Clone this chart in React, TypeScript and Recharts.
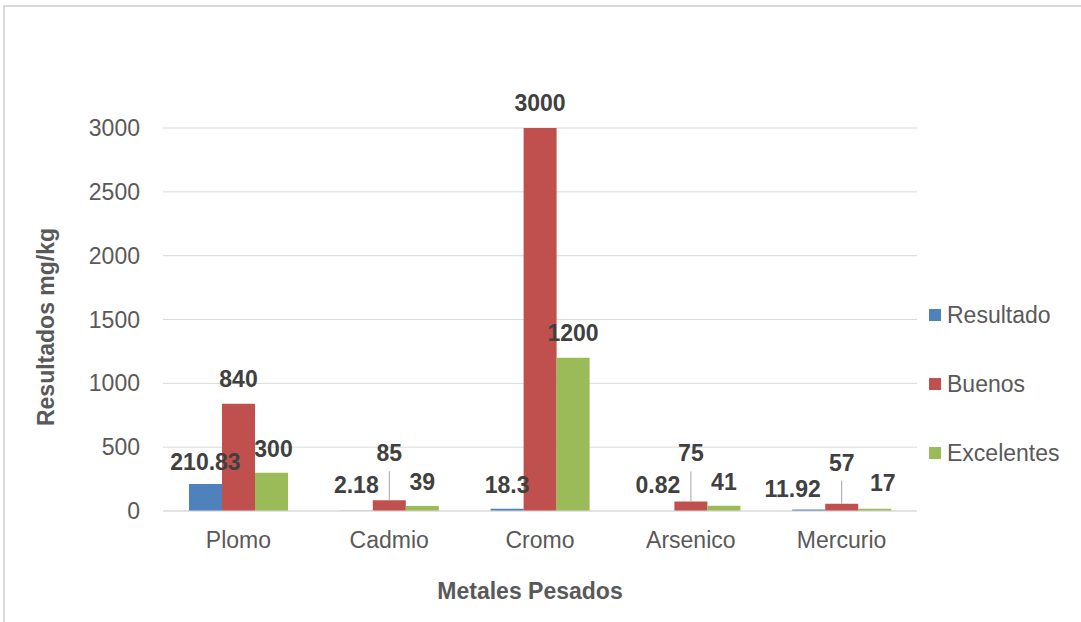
import { BarChart, Bar, XAxis, YAxis, CartesianGrid, LabelList } from "recharts";

const metales = ["Plomo", "Cadmio", "Cromo", "Arsenico", "Mercurio"];
const resultado = [210.83, 2.18, 18.3, 0.82, 11.92];
const buenos = [840, 85, 3000, 75, 57];
const excelentes = [300, 39, 1200, 41, 17];
const yTicks = [0, 500, 1000, 1500, 2000, 2500, 3000];

const series = [
  { key: "resultado", name: "Resultado", color: "#4F81BD" },
  { key: "buenos", name: "Buenos", color: "#C0504D" },
  { key: "excelentes", name: "Excelentes", color: "#9BBB59" },
];

const data = metales.map((metal, i) => ({
  metal,
  resultado: resultado[i],
  buenos: buenos[i],
  excelentes: excelentes[i],
}));

// label placement (how far above the bar top, sideways nudge, leader line)
const labelLift: Record<string, number[]> = {
  resultado: [22, 26, 24, 26, 20],
  buenos: [25, 47, 25, 48, 41],
  excelentes: [24, 24, 25, 24, 26],
};
const labelShift: Record<string, number[]> = {
  resultado: [0, 0, 0, 0, -16],
  buenos: [0, 0, 0, 0, 0],
  excelentes: [2, 0, 0, 0, 8],
};
const leaderLine: Record<string, boolean[]> = {
  resultado: [false, false, false, false, false],
  buenos: [false, true, false, true, true],
  excelentes: [false, false, false, false, false],
};

const FONT = '"Liberation Sans", Arial, sans-serif';

const makeLabel = (key: string) => (props: any) => {
  const { x, y, width, value, index } = props;
  const cx = x + width / 2 + labelShift[key][index];
  const cy = y - labelLift[key][index];
  return (
    <g>
      <text
        x={cx}
        y={cy + 8}
        textAnchor="middle"
        fontSize={23}
        fontWeight="bold"
        fill="#404040"
      >
        {value}
      </text>
      {leaderLine[key][index] && (
        <line x1={cx} x2={cx} y1={cy + 18} y2={y} stroke="#A6A6A6" strokeWidth={1} />
      )}
    </g>
  );
};

export default function App() {
  return (
    <div
      style={{
        position: "fixed",
        left: 0,
        top: 0,
        width: 1081,
        height: 622,
        background: "#fff",
        fontFamily: FONT,
        overflow: "hidden",
      }}
    >
      {/* chart border */}
      <div
        style={{
          position: "absolute",
          left: 3,
          top: 5,
          width: 1200,
          height: 700,
          border: "2px solid #D9D9D9",
        }}
      />

      <div style={{ position: "absolute", left: 0, top: 0 }}>
        <BarChart
          width={1081}
          height={622}
          data={data}
          margin={{ top: 128, right: 164, bottom: 0, left: 23 }}
          barSize={33}
          barGap={0}
        >
          <CartesianGrid vertical={false} stroke="#D9D9D9" />

          <XAxis
            dataKey="metal"
            height={111}
            axisLine={{ stroke: "#D9D9D9" }}
            tickLine={false}
            tickSize={0}
            tickMargin={21}
            tick={{ fill: "#595959", fontSize: 23 }}
            label={{
              content: () => (
                <text
                  x={530}
                  y={599}
                  textAnchor="middle"
                  fontSize={23}
                  fontWeight="bold"
                  fill="#595959"
                >
                  Metales Pesados
                </text>
              ),
            }}
          />

          <YAxis
            width={140}
            domain={[0, 3000]}
            ticks={yTicks}
            interval={0}
            axisLine={false}
            tickLine={false}
            tickSize={0}
            tickMargin={23}
            tick={{ fill: "#595959", fontSize: 23 }}
            label={{
              content: () => (
                <text
                  x={46}
                  y={327}
                  transform="rotate(-90 46 327)"
                  textAnchor="middle"
                  dominantBaseline="central"
                  fontSize={23}
                  fontWeight="bold"
                  fill="#595959"
                >
                  Resultados mg/kg
                </text>
              ),
            }}
          />

          {series.map((s) => (
            <Bar key={s.key} dataKey={s.key} name={s.name} fill={s.color} isAnimationActive={false}>
              <LabelList dataKey={s.key} content={makeLabel(s.key)} />
            </Bar>
          ))}
        </BarChart>
      </div>

      {/* LEGEND */}
      <div style={{ position: "absolute", left: 929, top: 300 }}>
        {series.map((s) => (
          <div
            key={s.key}
            style={{ display: "flex", alignItems: "center", height: 30, marginBottom: 39 }}
          >
            <span
              style={{ width: 12, height: 12, background: s.color, display: "inline-block", marginRight: 6 }}
            />
            <span style={{ fontSize: 23, color: "#595959" }}>{s.name}</span>
          </div>
        ))}
      </div>
    </div>
  );
}
